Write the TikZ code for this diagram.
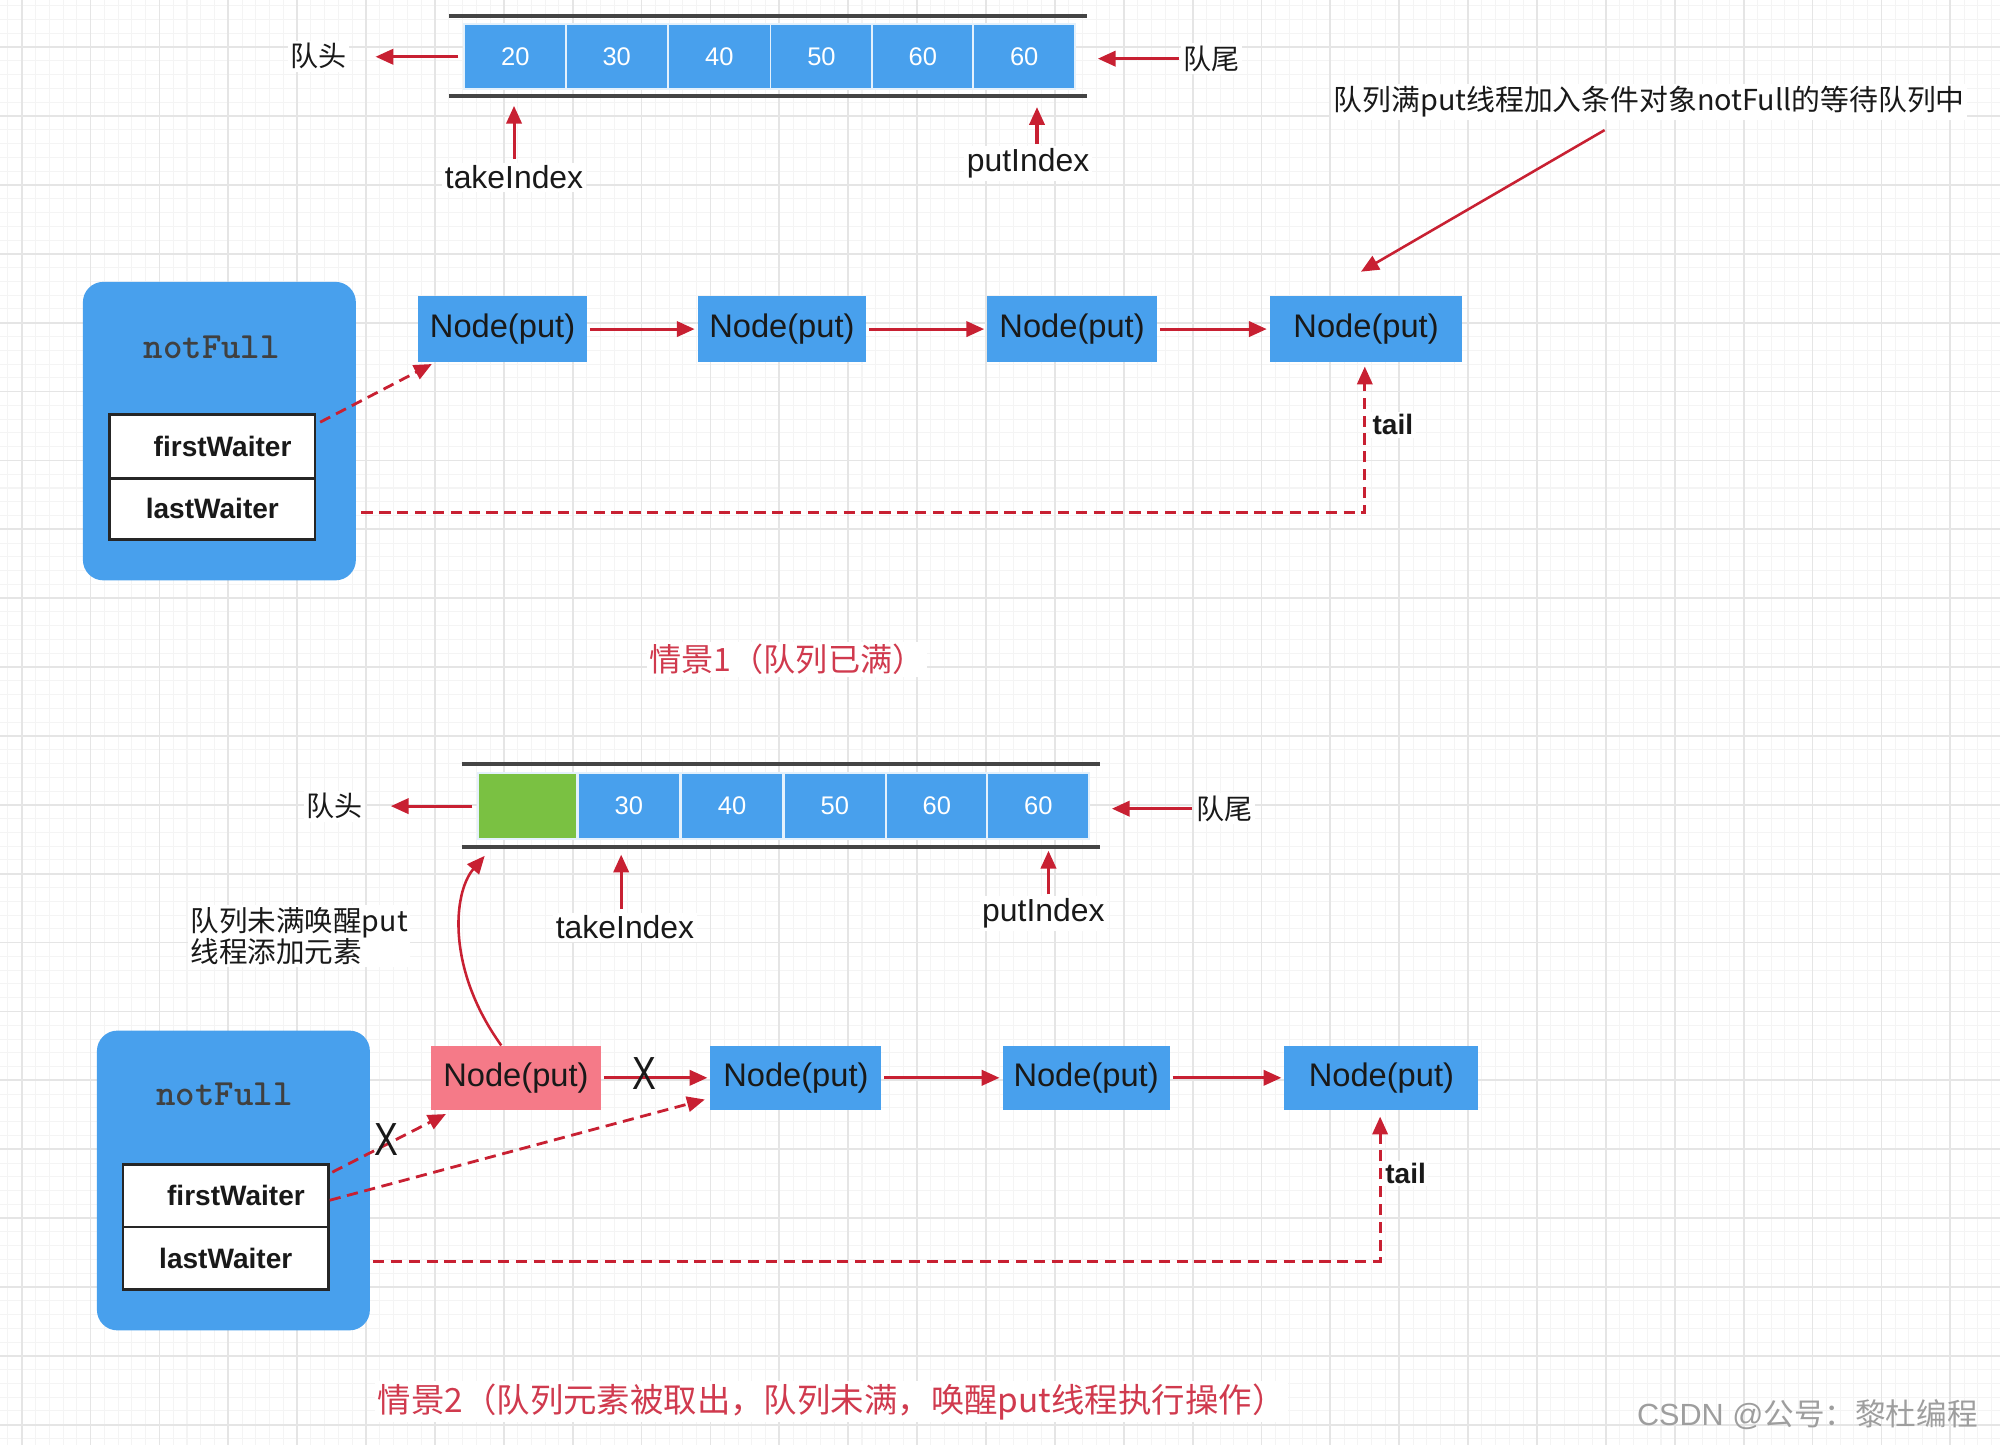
\documentclass[tikz,border=0pt]{standalone}
\usepackage{fontspec}
\usepackage{graphicx}
\setmainfont{Liberation Sans}
\newfontfamily\cjk{Noto Sans CJK SC}
\usetikzlibrary{arrows.meta}
\definecolor{qblue}{RGB}{72,160,237}
\definecolor{qgreen}{RGB}{122,193,66}
\definecolor{qpink}{RGB}{245,122,136}
\definecolor{ared}{RGB}{200,32,50}
\definecolor{capred}{RGB}{208,58,78}
\definecolor{railgray}{RGB}{68,68,68}
\definecolor{gminor}{RGB}{244,244,244}
\definecolor{gmajor}{RGB}{229,229,229}
\definecolor{txt}{RGB}{25,25,25}
\begin{document}
\begin{tikzpicture}[x=0.5pt,y=-0.5pt,
  gridminor/.style={draw=gminor, line width=0.4pt},
  gridmajor/.style={draw=gmajor, line width=0.7pt},
  rail/.style={draw=railgray, line width=1.6pt},
  cell/.style={rectangle, fill=qblue, draw=white!85!qblue, line width=0.7pt, inner sep=0pt,
    minimum width=40pt, minimum height=25.5pt, text=white, font=\fontsize{10}{11}\selectfont},
  qnode/.style={rectangle, fill=qblue, inner sep=0pt, minimum height=26pt, text=txt,
    font=\fontsize{12.8}{14}\selectfont},
  nfbox/.style={rectangle, rounded corners=8pt, fill=qblue, inner sep=0pt},
  waiter/.style={rectangle, draw=black!85, line width=1pt, fill=white, inner sep=0pt,
    minimum width=80.5pt, minimum height=24.5pt, text=txt, font=\bfseries\fontsize{11}{13}\selectfont},
  monolbl/.style={inner sep=0pt, text=black!75, font=\ttfamily\bfseries\fontsize{14.5}{16}\selectfont},
  lbl/.style={inner sep=1pt, fill=white, text=txt, font=\fontsize{12.5}{14}\selectfont},
  cjklbl/.style={inner sep=1pt, fill=white, text=txt, font=\cjk\fontsize{11}{13}\selectfont},
  boldlbl/.style={inner sep=1pt, fill=white, text=txt, font=\bfseries\fontsize{11}{13}\selectfont},
  caplbl/.style={inner sep=1pt, fill=white, text=capred},
  xmark/.style={inner sep=0pt, text=txt, font=\fontsize{14}{14}\selectfont},
  arr/.style={draw=ared, line width=1.2pt, -{Triangle[length=7pt,width=6pt]}},
  darr/.style={arr, line width=1.1pt, dash pattern=on 4.4pt off 2.6pt}
]
\useasboundingbox (0,0) rectangle (1568,1133);
\fill[white] (0,0) rectangle (1568,1133);
% background grid
\foreach \k in {-1,...,144} {\pgfmathsetmacro\xx{17+10.8*\k}\draw[gridminor] (\xx,0) -- (\xx,1133);}
\foreach \k in {-3,...,101} {\pgfmathsetmacro\yy{37+10.8*\k}\draw[gridminor] (0,\yy) -- (1568,\yy);}
\foreach \k in {0,...,29} {\pgfmathsetmacro\xx{17+54*\k}\draw[gridmajor] (\xx,0) -- (\xx,1133);}
\foreach \k in {0,...,20} {\pgfmathsetmacro\yy{37+54*\k}\draw[gridmajor] (0,\yy) -- (1568,\yy);}

% ================= Scenario 1 =================
\coordinate (t1l) at (352,12.5); \coordinate (t1r) at (852,12.5);
\coordinate (b1l) at (352,75.5); \coordinate (b1r) at (852,75.5);
\draw[rail] (t1l) -- (t1r);
\draw[rail] (b1l) -- (b1r);
\node[cell] (c11) at (404,44.5) {20};
\node[cell] (c12) at (483.5,44.5) {30};
\node[cell] (c13) at (564,44.5) {40};
\node[cell] (c14) at (644,44.5) {50};
\node[cell] (c15) at (723.5,44.5) {60};
\node[cell] (c16) at (803,44.5) {60};

\node[cjklbl] (h1) at (250,44) {队头};
\node[cjklbl] (e1) at (950,46) {队尾};
\draw[arr, shorten <=2pt, shorten >=10pt] (c11.west) -- (h1.east |- c11.west);
\draw[arr, shorten <=0.5pt, shorten >=8.5pt] (e1.west) -- (e1.west -| c16.east);

\node[lbl] (ti1) at (403,139) {takeIndex};
\node[lbl] (pi1) at (806,128) {putIndex};
\draw[arr, shorten <=1.5pt, shorten >=3.75pt] (ti1.north) -- (ti1.north |- b1l);
\draw[arr, shorten <=0.5pt, shorten >=4.25pt] ([xshift=3.5pt]pi1.north) -- ([xshift=3.5pt]pi1.north |- b1l);

\node[cjklbl, font=\cjk\fontsize{11.3}{13}\selectfont] (an1) at (1293,80) {队列满put线程加入条件对象notFull的等待队列中};
\coordinate (an1s) at (1258,102);
\coordinate (an1t) at (1067,213);
\draw[arr, line width=1pt] (an1s) -- (an1t);

\node[qnode, minimum width=66pt] (n11) at (394,258) {Node(put)};
\node[qnode, minimum width=66pt] (n12) at (613,258) {Node(put)};
\node[qnode, minimum width=66.5pt] (n13) at (840.5,258) {Node(put)};
\node[qnode, minimum width=75.5pt] (n14) at (1071,258) {Node(put)};
\draw[arr, shorten <=1pt, shorten >=1pt] (n11) -- (n12);
\draw[arr, shorten <=1pt, shorten >=1pt] (n12) -- (n13);
\draw[arr, shorten <=1pt, shorten >=1pt] (n13) -- (n14);

\node[nfbox, minimum width=107pt, minimum height=117pt] (nf1) at (172,338) {};
\node[monolbl] (nt1) at (166,272) {notFull};
\node[waiter, minimum height=25pt] (fw1) at (166.5,350) {\hspace*{8pt}firstWaiter};
\node[waiter, minimum height=24pt] (lw1) at (166.5,399) {lastWaiter};

\draw[darr] ([xshift=1.5pt,yshift=-3.5pt]fw1.north east) -- ([xshift=5.5pt,yshift=-0.5pt]n11.south west);
\draw[darr, shorten >=1.5pt] ([xshift=2pt,yshift=-1.5pt]nf1.east |- lw1.east) -| ([xshift=-0.5pt]n14.south);
\node[boldlbl] (tl1) at (1092,333) {tail};

\node[caplbl, font=\cjk\fontsize{12.6}{14}\selectfont] (cap1) at (617,517) {情景1（队列已满）};

% ================= Scenario 2 =================
\coordinate (t2l) at (362,599); \coordinate (t2r) at (862,599);
\coordinate (b2l) at (362,664); \coordinate (b2r) at (862,664);
\draw[rail] (t2l) -- (t2r);
\draw[rail] (b2l) -- (b2r);
\node[cell, fill=qgreen, minimum width=38.5pt, minimum height=26pt] (c21) at (413.5,632) {};
\node[cell, minimum height=26pt] (c22) at (493,632) {30};
\node[cell, minimum height=26pt] (c23) at (574,632) {40};
\node[cell, minimum height=26pt] (c24) at (654.5,632) {50};
\node[cell, minimum height=26pt] (c25) at (734.5,632) {60};
\node[cell, minimum height=26pt] (c26) at (814,632) {60};

\node[cjklbl] (h2) at (262,632) {队头};
\node[cjklbl] (e2) at (960,634) {队尾};
\draw[arr, shorten <=2pt, shorten >=10pt] (c21.west) -- (h2.east |- c21.west);
\draw[arr, shorten <=0.5pt, shorten >=8.5pt] (e2.west) -- (e2.west -| c26.east);

\node[lbl] (ti2) at (490,727) {takeIndex};
\node[lbl] (pi2) at (818,716) {putIndex};
\draw[arr, shorten <=1.5pt, shorten >=3pt] ([xshift=-1.5pt]ti2.north) -- ([xshift=-1.5pt]ti2.north |- b2l);
\draw[arr, shorten <=0.5pt, shorten >=1.5pt] ([xshift=2pt]pi2.north) -- ([xshift=2pt]pi2.north |- b2l);

\node[cjklbl, align=left, anchor=west, font=\cjk\fontsize{11.2}{12}\selectfont] (an2) at (147,734) {队列未满唤醒put\\线程添加元素};

\node[qnode, fill=qpink, minimum width=66.5pt, minimum height=25pt] (r2) at (404.5,845) {Node(put)};
\node[qnode, minimum width=67pt, minimum height=25pt] (b21) at (624,845) {Node(put)};
\node[qnode, minimum width=65.5pt, minimum height=25pt] (b22) at (851.5,845) {Node(put)};
\node[qnode, minimum width=76pt, minimum height=25pt] (b23) at (1083,845) {Node(put)};

\coordinate (cv2t) at (380,671);
\draw[arr, line width=1pt] ([xshift=-5.75pt]r2.north) .. controls (350,760) and (355,700) .. (cv2t);

\draw[arr, shorten <=1pt, shorten >=1pt] (r2) -- (b21);
\node[xmark] (x1) at (505,842) {\scalebox{1}[1.3]{X}};
\draw[arr, shorten <=1pt, shorten >=1pt] (b21) -- (b22);
\draw[arr, shorten <=1pt, shorten >=1pt] (b22) -- (b23);

\node[nfbox, minimum width=107pt, minimum height=117.5pt] (nf2) at (183,925.5) {};
\node[monolbl] (nt2) at (176,858) {notFull};
\node[waiter] (fw2) at (177,937.5) {\hspace*{8pt}firstWaiter};
\node[waiter] (lw2) at (177,986.5) {lastWaiter};

\draw[darr] ([xshift=1pt,yshift=-3.5pt]fw2.north east) -- ([xshift=6pt,yshift=-1.5pt]r2.south west);
\node[xmark] (x2) at (303,893) {\scalebox{1}[1.3]{X}};
\draw[darr] ([yshift=-1.75pt]fw2.east) -- ([xshift=-2pt,yshift=-8.5pt]b21.west);
\draw[darr, shorten >=2.5pt] ([xshift=1pt,yshift=-1.25pt]nf2.east |- lw2.east) -| ([xshift=-0.5pt]b23.south);
\node[boldlbl] (tl2) at (1102,920) {tail};

\node[caplbl, font=\cjk\fontsize{13.1}{15}\selectfont] (cap2) at (652,1099) {情景2（队列元素被取出，队列未满，唤醒put线程执行操作）};

\node[inner sep=0pt, text=black!38, font=\fontsize{12}{14}\selectfont] (wm) at (1417,1109) {CSDN @{\cjk 公号：黎杜编程}};
\end{tikzpicture}
\end{document}
